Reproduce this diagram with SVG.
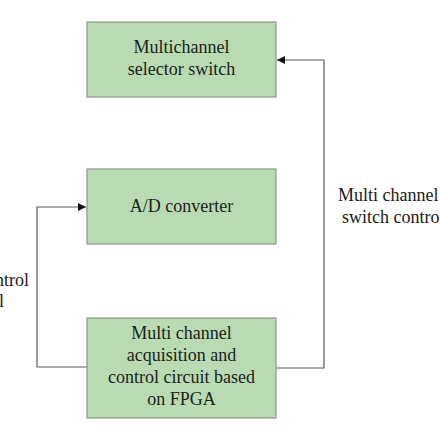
<svg xmlns="http://www.w3.org/2000/svg" width="440" height="440" viewBox="0 0 440 440">
<defs>
<style>
.box{fill:#b9dab2;stroke:#8c958b;stroke-width:1.2}
.t{font-family:"Liberation Serif",serif;font-size:18px;fill:#1a241a;text-anchor:middle}
.lab{font-family:"Liberation Serif",serif;font-size:18px;fill:#1a1a1a}
.ln{fill:none;stroke:#5a5a5a;stroke-width:1.2}
</style>
<marker id="ah" viewBox="0 0 10 10" refX="10" refY="5" markerWidth="8" markerHeight="8" markerUnits="userSpaceOnUse" orient="auto">
<path d="M0,0 L10,5 L0,10 z" fill="#111"/>
</marker>
</defs>
<rect width="440" height="440" fill="#fff"/>
<g id="connectors">
<path class="ln" d="M276,368 H324 V60 H277" marker-end="url(#ah)"/>
<path class="ln" d="M87,367 H37 V207 H86" marker-end="url(#ah)"/>
</g>
<g id="selector">
<rect class="box" x="87" y="22" width="189" height="75"/>
<text class="t" x="181.5" y="53">Multichannel</text>
<text class="t" x="181.5" y="75">selector switch</text>
</g>
<g id="adc">
<rect class="box" x="87" y="169" width="189" height="75"/>
<text class="t" x="181.5" y="212">A/D converter</text>
</g>
<g id="fpga">
<rect class="box" x="87" y="318" width="189" height="100"/>
<text class="t" x="181.5" y="339">Multi channel</text>
<text class="t" x="181.5" y="361">acquisition and</text>
<text class="t" x="181.5" y="383">control circuit based</text>
<text class="t" x="181.5" y="405">on FPGA</text>
</g>
<g id="label-right">
<text class="lab" x="338" y="201">Multi channel</text>
<text class="lab" x="342" y="223">switch control</text>
</g>
<g id="label-left">
<text class="lab" x="29" y="286" text-anchor="end">A/D control</text>
<text class="lab" x="4" y="307" text-anchor="end">signal</text>
</g>
</svg>
